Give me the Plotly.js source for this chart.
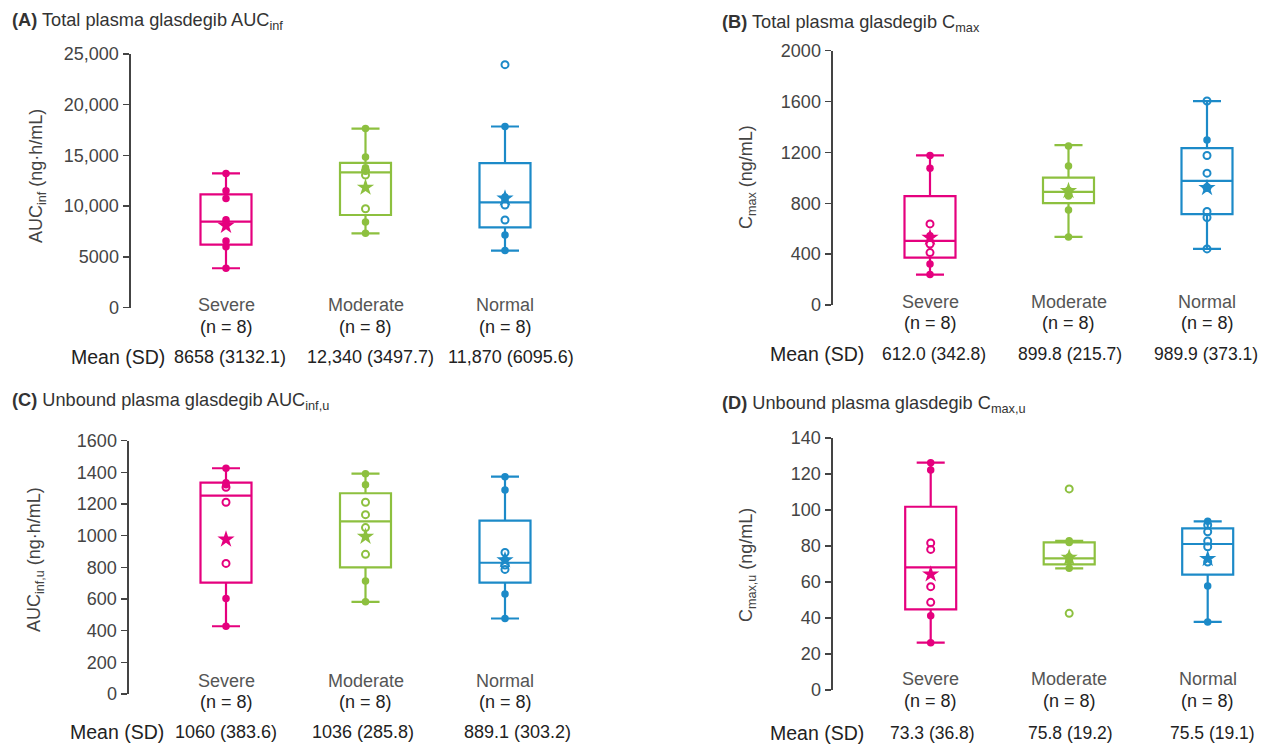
<!DOCTYPE html>
<html>
<head>
<meta charset="utf-8">
<script src="https://cdn.plot.ly/plotly-3.0.1.min.js"></script>
<style>html,body{margin:0;padding:0;background:#fff;}#chart{width:1262px;height:744px;}</style>
</head>
<body>
<div id="chart"></div>
<script>
// ---------------- DATA ----------------
const groups = ["Severe", "Moderate", "Normal"];
const nLabels = ["(n = 8)", "(n = 8)", "(n = 8)"];

// Panel A: total AUCinf (ng·h/mL)
const aucSevere   = [13220, 11520, 10760, 8660, 8420, 6560, 6000, 3870];
const aucModerate = [17650, 14830, 13780, 13500, 13060, 9740, 8430, 7320];
const aucNormal   = [23950, 17850, 10900, 10700, 10110, 8630, 7150, 5610];
const aucFilled   = [[1,1,1,1,1,1,1,1],[1,1,1,0,0,0,1,1],[0,1,1,1,0,0,1,1]];
const aucQ1 = [6200, 9120, 7900];
const aucMedian = [8460, 13320, 10360];
const aucQ3 = [11150, 14270, 14240];
const aucLow = [3870, 7320, 5610];
const aucHigh = [13220, 17650, 17850];
const aucMeanMark = [8070, 11840, 10760];
const aucMeanText = ["8658 (3132.1)", "12,340 (3497.7)", "11,870 (6095.6)"];
const aucTicks = [0, 5000, 10000, 15000, 20000, 25000];
const aucTickText = ["0", "5000", "10,000", "15,000", "20,000", "25,000"];

// Panel B: total Cmax (ng/mL)
const cmaxSevere   = [1176, 1076, 638, 545, 480, 412, 323, 239];
const cmaxModerate = [1250, 1094, 903, 890, 876, 858, 748, 535];
const cmaxNormal   = [1604, 1297, 1176, 1037, 925, 735, 688, 441];
const cmaxFilled   = [[1,1,0,1,0,0,1,1],[1,1,1,1,1,1,1,1],[0,1,0,0,0,0,0,0]];
const cmaxQ1 = [373, 801, 714];
const cmaxMedian = [504, 890, 976];
const cmaxQ3 = [856, 1002, 1234];
const cmaxLow = [239, 535, 441];
const cmaxHigh = [1176, 1257, 1604];
const cmaxMeanMark = [530, 898, 921];
const cmaxMeanText = ["612.0 (342.8)", "899.8 (215.7)", "989.9 (373.1)"];
const cmaxTicks = [0, 400, 800, 1200, 1600, 2000];
const cmaxTickText = ["0", "400", "800", "1200", "1600", "2000"];

// Panel C: unbound AUCinf,u (ng·h/mL)
const aucuSevere   = [1426, 1335, 1321, 1306, 1211, 825, 603, 428];
const aucuModerate = [1392, 1321, 1211, 1133, 1051, 882, 713, 582];
const aucuNormal   = [1373, 1289, 894, 850, 815, 787, 631, 477];
const aucuFilled   = [[1,1,1,0,0,0,1,1],[1,1,0,0,0,0,1,1],[1,1,0,1,0,0,1,1]];
const aucuQ1 = [703, 800, 703];
const aucuMedian = [1253, 1091, 829];
const aucuQ3 = [1335, 1268, 1095];
const aucuLow = [428, 582, 477];
const aucuHigh = [1426, 1392, 1373];
const aucuMeanMark = [977, 994, 846];
const aucuMeanText = ["1060 (383.6)", "1036 (285.8)", "889.1 (303.2)"];
const aucuTicks = [0, 200, 400, 600, 800, 1000, 1200, 1400, 1600];
const aucuTickText = ["0", "200", "400", "600", "800", "1000", "1200", "1400", "1600"];

// Panel D: unbound Cmax,u (ng/mL)
const cmaxuSevere   = [126.3, 122.2, 81.7, 78.1, 57.4, 48.7, 41.3, 26.3];
const cmaxuModerate = [111.7, 82.9, 82.0, 74.0, 73.0, 72.0, 67.6, 42.6];
const cmaxuNormal   = [93.7, 91.7, 87.9, 82.8, 79.6, 71.1, 57.8, 37.8];
const cmaxuFilled   = [[1,1,0,0,0,0,1,1],[0,1,1,1,1,1,1,0],[1,0,0,0,0,0,1,1]];
const cmaxuQ1 = [44.8, 69.8, 64.1];
const cmaxuMedian = [68.1, 73.1, 81.1];
const cmaxuQ3 = [101.8, 82.0, 89.8];
const cmaxuLow = [26.3, 67.6, 37.8];
const cmaxuHigh = [126.3, 82.9, 93.7];
const cmaxuMeanMark = [64.3, 73.6, 72.9];
const cmaxuMeanText = ["73.3 (36.8)", "75.8 (19.2)", "75.5 (19.1)"];
const cmaxuTicks = [0, 20, 40, 60, 80, 100, 120, 140];
const cmaxuTickText = ["0", "20", "40", "60", "80", "100", "120", "140"];

// ---------------- STYLE / LAYOUT ----------------
const W = 1262, H = 744;
const colors = ["#E5007E", "#8DC03F", "#1C8AC8"];
const FONT = "Liberation Sans, Arial, sans-serif";
const LBL = 18, MLBL = 19.5, TICK = 18, TTL = 18.2, YT = 18;

const panels = [
  {data:[aucSevere,aucModerate,aucNormal], filled:aucFilled, q1:aucQ1, med:aucMedian, q3:aucQ3, lo:aucLow, hi:aucHigh,
   mean:aucMeanMark, meanText:aucMeanText, ticks:aucTicks, tickText:aucTickText, ymax:25000,
   axX:131, endX:640, c0:226, step:139.5, yTop:54, yBot:307.5,
   title:"<b>(A)</b> Total plasma glasdegib AUC<sub>inf</sub>", tx:10, ty:22,
   ytitle:"AUC<sub>inf</sub> (ng·h/mL)", ytx:37, yty:176,
   nameY:305, nY:327, meanY:357, meanLabelX:118, meanX:[230, 370, 511], valSize:18},
  {data:[cmaxSevere,cmaxModerate,cmaxNormal], filled:cmaxFilled, q1:cmaxQ1, med:cmaxMedian, q3:cmaxQ3, lo:cmaxLow, hi:cmaxHigh,
   mean:cmaxMeanMark, meanText:cmaxMeanText, ticks:cmaxTicks, tickText:cmaxTickText, ymax:2000,
   axX:833, endX:1258, c0:930, step:138.5, yTop:50.7, yBot:305,
   title:"<b>(B)</b> Total plasma glasdegib C<sub>max</sub>", tx:720, ty:24,
   ytitle:"C<sub>max</sub> (ng/mL)", ytx:747, yty:177,
   nameY:302, nY:323, meanY:354, meanLabelX:817, meanX:[934, 1070, 1206], valSize:17.5},
  {data:[aucuSevere,aucuModerate,aucuNormal], filled:aucuFilled, q1:aucuQ1, med:aucuMedian, q3:aucuQ3, lo:aucuLow, hi:aucuHigh,
   mean:aucuMeanMark, meanText:aucuMeanText, ticks:aucuTicks, tickText:aucuTickText, ymax:1600,
   axX:129, endX:640, c0:226, step:139.5, yTop:440.7, yBot:694,
   title:"<b>(C)</b> Unbound plasma glasdegib AUC<sub>inf,u</sub>", tx:10, ty:401,
   ytitle:"AUC<sub>inf,u</sub> (ng·h/mL)", ytx:35, yty:560,
   nameY:681, nY:702, meanY:732, meanLabelX:117, meanX:[226, 363, 517], valSize:18},
  {data:[cmaxuSevere,cmaxuModerate,cmaxuNormal], filled:cmaxuFilled, q1:cmaxuQ1, med:cmaxuMedian, q3:cmaxuQ3, lo:cmaxuLow, hi:cmaxuHigh,
   mean:cmaxuMeanMark, meanText:cmaxuMeanText, ticks:cmaxuTicks, tickText:cmaxuTickText, ymax:140,
   axX:833, endX:1258, c0:930.7, step:138.5, yTop:438, yBot:690,
   title:"<b>(D)</b> Unbound plasma glasdegib C<sub>max,u</sub>", tx:720, ty:404,
   ytitle:"C<sub>max,u</sub> (ng/mL)", ytx:747, yty:565,
   nameY:679, nY:701, meanY:733, meanLabelX:817, meanX:[932, 1070, 1212], valSize:17.5}
];

const traces = [];
const layout = {
  width: W, height: H,
  margin: {l:0, r:0, t:0, b:0},
  paper_bgcolor: "#fff", plot_bgcolor: "rgba(0,0,0,0)",
  showlegend: false,
  font: {family: FONT, size: 17, color: "#222"},
  annotations: []
};

panels.forEach((p, i) => {
  const sfx = i === 0 ? "" : String(i + 1);
  const xa = "x" + sfx, ya = "y" + sfx;
  layout["xaxis" + sfx] = {
    domain: [p.axX / W, p.endX / W],
    range: [(p.axX - p.c0) / p.step, (p.endX - p.c0) / p.step],
    visible: false, fixedrange: true, anchor: ya
  };
  layout["yaxis" + sfx] = {
    domain: [1 - p.yBot / H, 1 - p.yTop / H],
    range: [0, p.ymax], anchor: xa,
    showline: true, linecolor: "#444", linewidth: 2.5,
    ticks: "outside", ticklen: 6, tickwidth: 1.5, tickcolor: "#444",
    tickvals: p.ticks, ticktext: p.tickText,
    tickfont: {family: FONT, size: TICK, color: "#444"},
    showgrid: false, zeroline: false, fixedrange: true
  };
  const boxW = 51 / p.step;
  groups.forEach((g, k) => {
    traces.push({
      type: "box", xaxis: xa, yaxis: ya, x: [k],
      q1: [p.q1[k]], median: [p.med[k]], q3: [p.q3[k]],
      lowerfence: [p.lo[k]], upperfence: [p.hi[k]],
      width: boxW, whiskerwidth: 0.55, boxpoints: false,
      line: {color: colors[k], width: 2.2},
      fillcolor: "rgba(255,255,255,0)", hoverinfo: "skip"
    });
  });
  groups.forEach((g, k) => {
    const vals = p.data[k];
    const fy = vals.filter((v, j) => p.filled[k][j]);
    const oy = vals.filter((v, j) => !p.filled[k][j]);
    traces.push({
      type: "scatter", mode: "markers", xaxis: xa, yaxis: ya, cliponaxis: false,
      x: fy.map(() => k), y: fy,
      marker: {symbol: "circle", size: 7.5, color: colors[k], line: {width: 0}}, hoverinfo: "y"
    });
    traces.push({
      type: "scatter", mode: "markers", xaxis: xa, yaxis: ya, cliponaxis: false,
      x: oy.map(() => k), y: oy,
      marker: {symbol: "circle-open", size: 7, color: colors[k], line: {width: 2, color: colors[k]}}, hoverinfo: "y"
    });
    traces.push({
      type: "scatter", mode: "markers", xaxis: xa, yaxis: ya, cliponaxis: false,
      x: [k], y: [p.mean[k]],
      marker: {symbol: "star", size: 13, color: colors[k], line: {width: 0}}, hoverinfo: "y"
    });
    layout.annotations.push({xref: xa, yref: "paper", x: k, y: 1 - p.nameY / H,
      text: g, showarrow: false, xanchor: "center", yanchor: "middle",
      font: {family: FONT, size: LBL, color: "#555"}});
    layout.annotations.push({xref: xa, yref: "paper", x: k, y: 1 - p.nY / H,
      text: nLabels[k], showarrow: false, xanchor: "center", yanchor: "middle",
      font: {family: FONT, size: LBL, color: "#222"}});
    layout.annotations.push({xref: "paper", yref: "paper", x: p.meanX[k] / W, y: 1 - p.meanY / H,
      text: p.meanText[k], showarrow: false, xanchor: "center", yanchor: "middle",
      font: {family: FONT, size: p.valSize, color: "#222"}});
  });
  layout.annotations.push({xref: "paper", yref: "paper", x: p.meanLabelX / W, y: 1 - p.meanY / H,
    text: "Mean (SD)", showarrow: false, xanchor: "center", yanchor: "middle",
    font: {family: FONT, size: MLBL, color: "#222"}});
  layout.annotations.push({xref: "paper", yref: "paper", x: p.tx / W, y: 1 - p.ty / H,
    text: p.title, showarrow: false, xanchor: "left", yanchor: "middle",
    font: {family: FONT, size: TTL, color: "#333"}});
  layout.annotations.push({xref: "paper", yref: "paper", x: p.ytx / W, y: 1 - p.yty / H,
    text: p.ytitle, showarrow: false, xanchor: "center", yanchor: "middle", textangle: -90,
    font: {family: FONT, size: YT, color: "#444"}});
});

Plotly.newPlot("chart", traces, layout, {staticPlot: true, displayModeBar: false});
</script>
</body>
</html>
